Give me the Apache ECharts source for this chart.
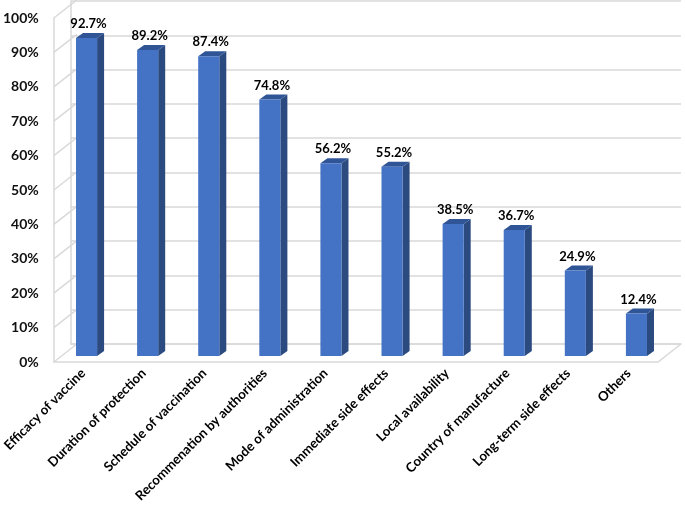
<!DOCTYPE html>
<html>
<head>
<meta charset="utf-8">
<style>
  html, body { margin: 0; padding: 0; background: #fff; }
  #main { width: 685px; height: 505px; }
</style>
</head>
<body>
<div id="main"></div>
<script src="https://cdn.jsdelivr.net/npm/echarts@6/dist/echarts.min.js"></script>
<script>
var categories = ['Efficacy of vaccine', 'Duration of protection', 'Schedule of vaccination',
  'Recommenation by authorities', 'Mode of administration', 'Immediate side effects',
  'Local availability', 'Country of manufacture', 'Long-term side effects', 'Others'];
var values = [92.7, 89.2, 87.4, 74.8, 56.2, 55.2, 38.5, 36.7, 24.9, 12.4];
var ticks = [0, 10, 20, 30, 40, 50, 60, 70, 80, 90, 100];

var FONT = 'Lato';
var WALL = '#d9d9d9';
var BACK_DX = 23, BACK_DY = 18;  // depth of the side wall
var BAR_DX = 7, BAR_DY = 5;      // depth of one bar

function renderBar(params, api) {
  var x = api.coord([api.value(0), 0])[0];
  var top = api.coord([api.value(0), api.value(1)])[1];
  var bottom = api.coord([api.value(0), 0])[1];
  var w = api.size([1, 0])[0] * 0.345;
  var l = x - w / 2, r = x + w / 2;
  return {
    type: 'group',
    children: [
      { type: 'polygon', shape: { points: [[r, top], [r + BAR_DX, top - BAR_DY], [r + BAR_DX, bottom - BAR_DY], [r, bottom]] },
        style: { fill: '#2b4a80' } },
      { type: 'polygon', shape: { points: [[l, top], [l + BAR_DX, top - BAR_DY], [r + BAR_DX, top - BAR_DY], [r, top]] },
        style: { fill: '#2f5597' } },
      { type: 'rect', shape: { x: l, y: top, width: w, height: bottom - top },
        style: { fill: '#4472c4' } },
      { type: 'text', x: x + 2, y: top - 14,
        style: { text: api.value(1).toFixed(1) + '%', font: 'bold 13px ' + FONT, fill: '#000', align: 'center', verticalAlign: 'middle' } }
    ]
  };
}

// left wall diagonal for every tick, drawn from the front plane to the back plane
function renderDiagonal(params, api) {
  var p = api.coord([0, api.value(0)]);
  return { type: 'line', shape: { x1: p[0], y1: p[1], x2: p[0] + BACK_DX, y2: p[1] - BACK_DY },
    style: { stroke: WALL, lineWidth: 1.5 } };
}

// floor edges: front edge, and the right hand diagonal
function renderFloor(params, api) {
  var a = api.coord([0, 0]);
  var b = api.coord([1, 0]);
  return { type: 'polyline', shape: { points: [[a[0], a[1]], [b[0], b[1]], [b[0] + BACK_DX, b[1] - BACK_DY]] },
    style: { stroke: WALL, lineWidth: 1.5, fill: 'none' } };
}

var option = {
  backgroundColor: '#fff',
  animation: false,
  textStyle: { fontFamily: FONT },
  grid: [
    { left: 56, right: 18, top: 13, bottom: 149 },  // bars
    { left: 48, right: 27, top: 18, bottom: 143 },  // front plane
    { left: 71, right: 4, top: 1, bottom: 161 },    // back wall
    { left: 48, right: 26, top: 13, bottom: 149 }   // category labels, a bit left of the bars
  ],
  xAxis: [
    { type: 'category', gridIndex: 0, data: categories, show: false },
    { type: 'value', gridIndex: 1, min: 0, max: 1, show: false },
    {
      type: 'value', gridIndex: 2, min: 0, max: 1, interval: 1,
      axisLine: { show: true, lineStyle: { color: WALL, width: 1.5 } },
      axisTick: { show: false }, axisLabel: { show: false }, splitLine: { show: false }
    },
    {
      type: 'category', gridIndex: 3, data: categories,
      axisLine: { show: false }, axisTick: { show: false },
      axisLabel: {
        interval: 0, rotate: 45, margin: 20, fontSize: 13.2, fontWeight: 'bold', color: '#000', fontFamily: FONT
      }
    }
  ],
  yAxis: [
    { type: 'value', gridIndex: 0, min: 0, max: 100, show: false },
    {
      type: 'value', gridIndex: 1, min: 0, max: 100, interval: 10,
      axisLine: { show: true, lineStyle: { color: WALL, width: 1.5 } },
      axisTick: { show: false }, splitLine: { show: false },
      axisLabel: { formatter: '{value}%', fontSize: 14, fontWeight: 'bold', color: '#111', margin: 15, padding: [3, 0, 0, 0], fontFamily: FONT }
    },
    {
      type: 'value', gridIndex: 2, min: 0, max: 100, interval: 10,
      axisLine: { show: true, lineStyle: { color: WALL, width: 1.5 } },
      axisTick: { show: false }, axisLabel: { show: false },
      splitLine: { show: true, lineStyle: { color: WALL, width: 1.5 } }
    },
    { type: 'value', gridIndex: 3, min: 0, max: 100, show: false }
  ],
  series: [
    { type: 'custom', xAxisIndex: 1, yAxisIndex: 1, data: ticks.map(function (t) { return [t]; }),
      renderItem: renderDiagonal, encode: { y: 0 }, silent: true, z: 1 },
    { type: 'custom', xAxisIndex: 1, yAxisIndex: 1, data: [[0, 0]],
      renderItem: renderFloor, silent: true, z: 1 },
    { type: 'custom', xAxisIndex: 0, yAxisIndex: 0, data: values.map(function (v, i) { return [i, v]; }),
      renderItem: renderBar, encode: { x: 0, y: 1 }, z: 5 }
  ]
};

echarts.init(document.getElementById('main')).setOption(option);
</script>
</body>
</html>
